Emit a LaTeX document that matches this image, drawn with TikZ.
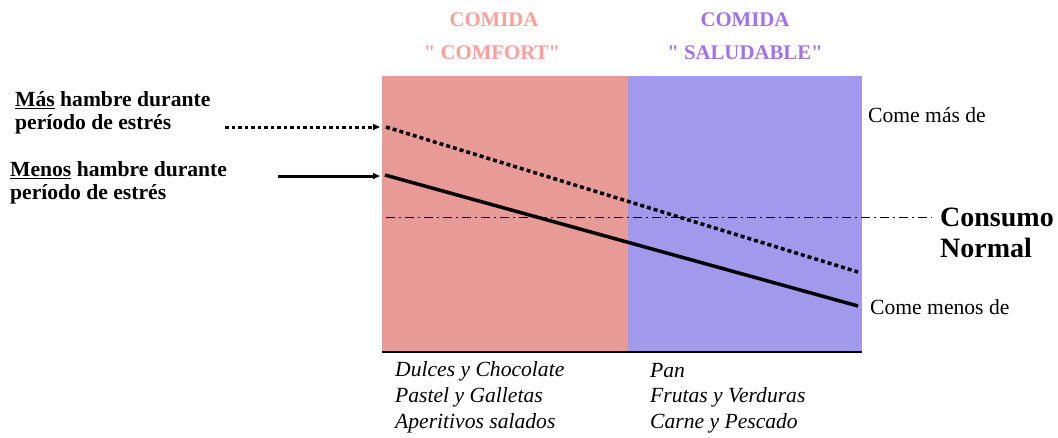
\documentclass[tikz,border=0pt]{standalone}
\usepackage{fontspec}
\setmainfont{Liberation Serif}
\usetikzlibrary{arrows.meta}
\definecolor{comfortfill}{HTML}{E89A96}
\definecolor{healthfill}{HTML}{A298EC}
\definecolor{comforttext}{HTML}{FF9E9A}
\definecolor{healthtext}{HTML}{A070F0}
\tikzset{
  lbl/.style={anchor=west, inner sep=0pt, font=\fontsize{21.6}{24}\selectfont\bfseries},
  side/.style={anchor=west, inner sep=0pt, font=\fontsize{21.6}{24}\selectfont},
  normal/.style={anchor=west, inner sep=0pt, font=\fontsize{28}{32}\selectfont\bfseries},
  head/.style={inner sep=0pt, font=\fontsize{20.8}{24}\selectfont\bfseries},
  food/.style={anchor=west, inner sep=0pt, font=\fontsize{21.6}{24}\selectfont\itshape},
  arr/.style={-{Triangle[length=7pt,width=6pt]}},
}
\begin{document}
\begin{tikzpicture}[x=1pt,y=-1pt]
\useasboundingbox (0,0) rectangle (1058,437);
% food category panels
\fill[comfortfill] (382,76) rectangle (628,352);
\fill[healthfill] (628,76) rectangle (862,352);
\draw[line width=2pt] (382,352) -- (862,352);
% column headings
\node[head, text=comforttext] (h1) at (494,20) {COMIDA};
\node[head, text=comforttext] (h2) at (492,53) {\textquotedbl{} COMFORT\textquotedbl};
\node[head, text=healthtext] (h3) at (745,20) {COMIDA};
\node[head, text=healthtext] (h4) at (745,53) {\textquotedbl{} SALUDABLE\textquotedbl};
% reference level
\coordinate (n0) at (386,217);
\coordinate (n1) at (932,217);
\draw[line width=1pt, dash pattern=on 9pt off 4pt on 2pt off 4pt] (n0) -- (n1);
\node[normal] (cons) at (940,217) {Consumo};
\node[normal] (norm) at (940,248) {Normal};
% left labels
\node[lbl] (mas1) at (15,100) {\underline{Más} hambre durante};
\node[lbl] (mas2) at (15,124) {período de estrés};
\node[lbl] (men1) at (10,170) {\underline{Menos} hambre durante};
\node[lbl] (men2) at (10,194) {período de estrés};
% right labels
\node[side] (cmas) at (868,115) {Come más de};
\node[side] (cmen) at (870,307) {Come menos de};
% trend lines
\coordinate (a0) at (225,127);
\coordinate (a1) at (380,127);
\coordinate (a2) at (386,127);
\coordinate (a3) at (858,272);
\coordinate (b0) at (278,176);
\coordinate (b1) at (380,176);
\coordinate (b2) at (385,175);
\coordinate (b3) at (858,306);
\draw[arr, line width=3pt, dash pattern=on 3.5pt off 3pt] (a0) -- (a1);
\draw[line width=3.5pt, dash pattern=on 4pt off 3pt] (a2) -- (a3);
\draw[arr, line width=3pt] (b0) -- (b1);
\draw[line width=3.5pt] (b2) -- (b3);
% food lists
\node[food] (f1) at (395,371) {Dulces y Chocolate};
\node[food] (f2) at (395,397) {Pastel y Galletas};
\node[food] (f3) at (395,423) {Aperitivos salados};
\node[food] (g1) at (650,371) {Pan};
\node[food] (g2) at (650,397) {Frutas y Verduras};
\node[food] (g3) at (650,423) {Carne y Pescado};
\end{tikzpicture}
\end{document}
